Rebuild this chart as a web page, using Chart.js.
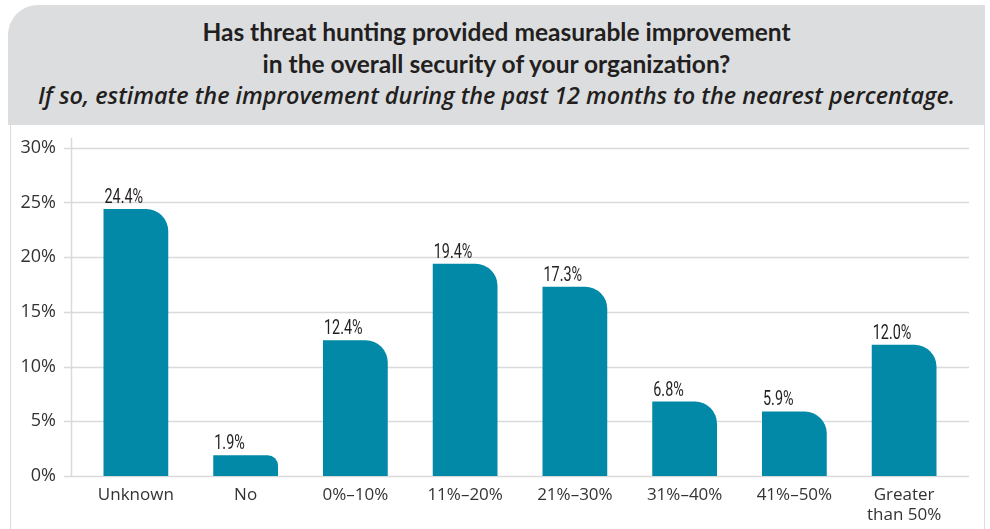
<!DOCTYPE html>
<html>
<head>
<meta charset="utf-8">
<script src="https://cdn.jsdelivr.net/npm/chart.js@4"></script>
<style>
  body { margin: 0; width: 990px; height: 529px; background: #fff; position: relative; overflow: hidden; font-family: Lato, "Open Sans", sans-serif; }
  #header {
    position: absolute; left: 8px; top: 5px; width: 977px; height: 120px;
    background: #dcdddf; border-top-left-radius: 30px; color: #231f20; text-align: center;
  }
  #header .t { font-weight: bold; font-size: 24.5px; line-height: 32px; }
  #header .s { font-family: "Open Sans", sans-serif; font-style: italic; font-weight: 600; font-size: 23.4px; line-height: 31px; }
  #body {
    position: absolute; left: 10px; top: 125px; width: 973px; height: 404px;
    border-left: 1.5px solid #dcdcdc; border-right: 1.5px solid #dcdcdc;
  }
  #wrap { position: absolute; left: 0; top: -13px; width: 973px; height: 417px; }
</style>
</head>
<body>
<div id="header">
  <div class="t" style="padding-top:11px">Has threat hunting provided measurable improvement</div>
  <div class="t">in the overall security of your organization?</div>
  <div class="s">If so, estimate the improvement during the past 12 months to the nearest percentage.</div>
</div>
<div id="body">
  <div id="wrap"><canvas id="chart"></canvas></div>
</div>
<script>
const categories = ["Unknown", "No", "0%\u201310%", "11%\u201320%", "21%\u201330%", "31%\u201340%", "41%\u201350%", ["Greater", "than 50%"]];
const values = [24.4, 1.9, 12.4, 19.4, 17.3, 6.8, 5.9, 12.0];
const yTicks = [0, 5, 10, 15, 20, 25, 30];

// gridlines + axis line, drawn a bit wider than the category area
const gridPlugin = {
  id: "gridLines",
  beforeDatasetsDraw(chart) {
    const ctx = chart.ctx;
    const y = chart.scales.y;
    ctx.save();
    ctx.strokeStyle = "#dadada";
    ctx.lineWidth = 1.5;
    yTicks.forEach(v => {
      const py = Math.round(y.getPixelForValue(v)) + 0.5;
      ctx.beginPath();
      ctx.moveTo(53, py);
      ctx.lineTo(958, py);
      ctx.stroke();
    });
    ctx.beginPath();
    ctx.moveTo(60.5, y.getPixelForValue(30) - 10);
    ctx.lineTo(60.5, y.getPixelForValue(0));
    ctx.stroke();
    ctx.restore();
  }
};

// value labels above bars, left aligned with the bar (condensed look)
const labelPlugin = {
  id: "barLabels",
  afterDatasetsDraw(chart) {
    const ctx = chart.ctx;
    chart.getDatasetMeta(0).data.forEach((bar, i) => {
      ctx.save();
      ctx.font = '20px Roboto, sans-serif';
      ctx.fillStyle = "#231f20";
      ctx.textAlign = "left";
      ctx.textBaseline = "alphabetic";
      ctx.translate(bar.x - bar.width / 2 + 1, bar.y - 6);
      ctx.scale(0.72, 1);
      ctx.fillText(values[i].toFixed(1) + "%", 0, 0);
      ctx.restore();
    });
  }
};

new Chart(document.getElementById("chart"), {
  type: "bar",
  data: {
    labels: categories,
    datasets: [{
      data: values,
      backgroundColor: "#0289a7",
      borderRadius: { topRight: 22 },
      borderSkipped: false,
      categoryPercentage: 1,
      barPercentage: 0.59
    }]
  },
  options: {
    responsive: true,
    maintainAspectRatio: false,
    animation: false,
    layout: { padding: { left: 0, right: 25, top: 9, bottom: 0 } },
    plugins: { legend: { display: false }, tooltip: { enabled: false } },
    scales: {
      x: {
        grid: { display: false, drawTicks: false },
        border: { display: false },
        ticks: {
          color: "#333",
          font: { family: "Open Sans", size: 17 },
          padding: 9,
          maxRotation: 0,
          autoSkip: false
        },
        afterFit(scale) { scale.height = 53; }
      },
      y: {
        min: 0,
        max: 30,
        grid: { display: false, drawTicks: false },
        border: { display: false },
        ticks: {
          stepSize: 5,
          color: "#333",
          font: { family: "Open Sans", size: 18 },
          padding: 25,
          callback: v => v + "%"
        },
        afterFit(scale) { scale.width = 70; }
      }
    }
  },
  plugins: [gridPlugin, labelPlugin]
});
</script>
</body>
</html>
